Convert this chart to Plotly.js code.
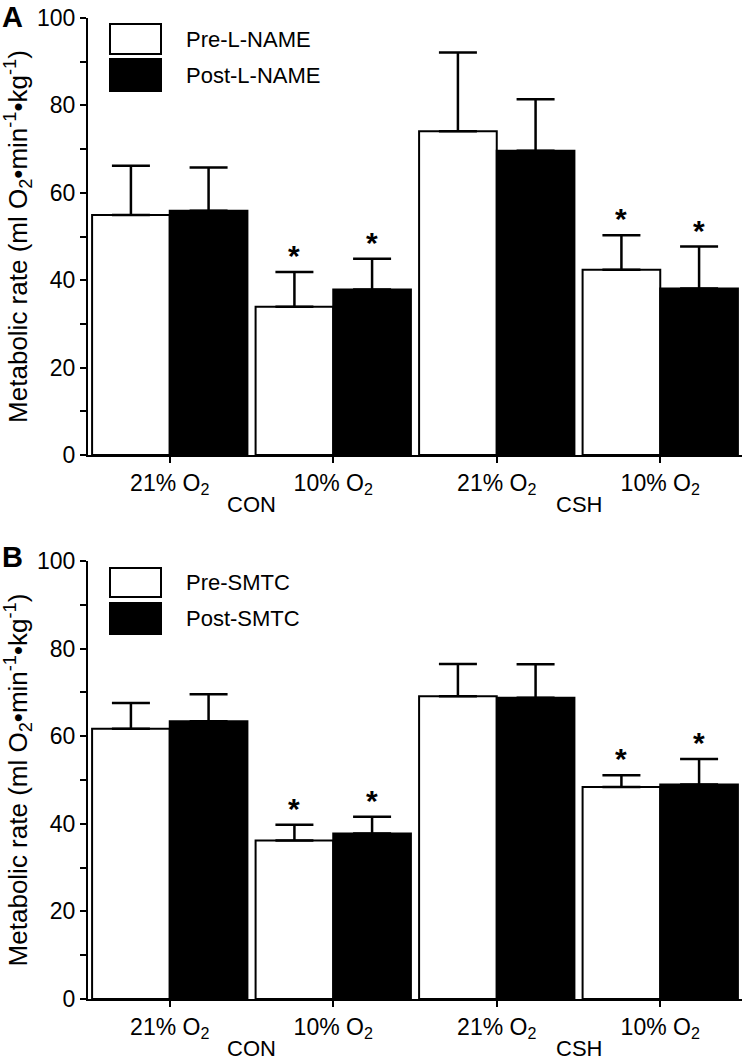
<!DOCTYPE html>
<html><head>
<meta charset="utf-8">
<script src="https://cdn.plot.ly/plotly-3.0.1.min.js"></script>
</head>
<body style="margin:0;background:#fff">
<div id="chart" style="width:744px;height:1061px"></div>
<script>
// ---- data ----
const catIndex = [0, 1, 2, 3];
const tickLabels = ['21% O<sub>2</sub>', '10% O<sub>2</sub>', '21% O<sub>2</sub>', '10% O<sub>2</sub>'];
const groupNames = ['CON', 'CSH'];
const groupCenters = [0.5, 2.5];

const preLNAME = [54.9, 33.9, 74.1, 42.4];
const preLNAMEerr = [11.3, 8.0, 18.0, 7.9];
const postLNAME = [55.9, 37.9, 69.6, 38.1];
const postLNAMEerr = [9.9, 7.0, 11.8, 9.6];

const preSMTC = [61.7, 36.2, 69.1, 48.4];
const preSMTCerr = [5.9, 3.6, 7.4, 2.7];
const postSMTC = [63.4, 37.8, 68.8, 49.0];
const postSMTCerr = [6.2, 3.8, 7.6, 5.8];

const sigPre = [false, true, false, true];
const sigPost = [false, true, false, true];

const legendA = ['Pre-L-NAME', 'Post-L-NAME'];
const legendB = ['Pre-SMTC', 'Post-SMTC'];
const yTitle = 'Metabolic rate (ml O<sub>2</sub>\u2022min<sup>-1</sup>\u2022kg<sup>-1</sup>)';

// ---- layout helpers ----
const W = 744, H = 1061;
const M = {l: 88, r: 2, t: 18, b: 62};
const PW = W - M.l - M.r, PH = H - M.t - M.b;
const px = x => (x - M.l) / PW;
const py = y => (H - M.b - y) / PH;
const FONT = 'Liberation Sans, Arial, Helvetica, sans-serif';
const BARGAP = 0.05;
const barOffset = (1 - BARGAP) / 4;
const TXT = 23;

function barTrace(vals, errs, fill, xa, ya) {
  return {
    type: 'bar', x: catIndex, y: vals, xaxis: xa, yaxis: ya,
    marker: {color: fill, line: {color: '#000', width: 2}},
    error_y: {type: 'data', symmetric: false, array: errs, arrayminus: errs.map(() => 0),
              color: '#000', thickness: 2.5, width: 19},
    showlegend: false, hoverinfo: 'skip'
  };
}

const data = [
  barTrace(preLNAME, preLNAMEerr, '#fff', 'x', 'y'),
  barTrace(postLNAME, postLNAMEerr, '#000', 'x', 'y'),
  barTrace(preSMTC, preSMTCerr, '#fff', 'x2', 'y2'),
  barTrace(postSMTC, postSMTCerr, '#000', 'x2', 'y2')
];

const annotations = [];
function stars(vals, errs, sig, side, xa, ya) {
  vals.forEach((v, i) => {
    if (!sig[i]) return;
    annotations.push({xref: xa, yref: ya, x: catIndex[i] + side * barOffset, y: v + errs[i],
      text: '<b>*</b>', showarrow: false, yanchor: 'bottom', yshift: -2,
      font: {family: FONT, size: 30, color: '#000'}});
  });
}
stars(preLNAME, preLNAMEerr, sigPre, -1, 'x', 'y');
stars(postLNAME, postLNAMEerr, sigPost, 1, 'x', 'y');
stars(preSMTC, preSMTCerr, sigPre, -1, 'x2', 'y2');
stars(postSMTC, postSMTCerr, sigPost, 1, 'x2', 'y2');

// group labels
[['x', 'y domain'], ['x2', 'y2 domain']].forEach(([xa, ya]) => {
  groupNames.forEach((g, i) => annotations.push({xref: xa, yref: ya, x: groupCenters[i], y: 0,
    yanchor: 'top', yshift: -35, text: g, showarrow: false,
    font: {family: FONT, size: 22, color: '#000'}}));
});

// panel letters
annotations.push({xref: 'paper', yref: 'paper', x: px(0), y: py(17), xanchor: 'left', yanchor: 'middle',
  text: '<b>A</b>', showarrow: false, font: {family: FONT, size: 29, color: '#000'}});
annotations.push({xref: 'paper', yref: 'paper', x: px(0), y: py(557), xanchor: 'left', yanchor: 'middle',
  text: '<b>B</b>', showarrow: false, font: {family: FONT, size: 29, color: '#000'}});

// legends (drawn as boxes + text)
const shapes = [];
function legend(names, topWhite, topBlack, hWhite, hBlack) {
  shapes.push({type: 'rect', xref: 'paper', yref: 'paper', x0: px(110), x1: px(161),
    y0: py(topWhite + hWhite), y1: py(topWhite), fillcolor: '#fff', line: {color: '#000', width: 2}});
  shapes.push({type: 'rect', xref: 'paper', yref: 'paper', x0: px(110), x1: px(161),
    y0: py(topBlack + hBlack), y1: py(topBlack), fillcolor: '#000', line: {color: '#000', width: 2}});
  annotations.push({xref: 'paper', yref: 'paper', x: px(184), y: py(topWhite + hWhite / 2),
    xanchor: 'left', yanchor: 'middle', text: names[0], showarrow: false,
    font: {family: FONT, size: 22, color: '#000'}});
  annotations.push({xref: 'paper', yref: 'paper', x: px(184), y: py(topBlack + hBlack / 2),
    xanchor: 'left', yanchor: 'middle', text: names[1], showarrow: false,
    font: {family: FONT, size: 22, color: '#000'}});
}
legend(legendA, 24, 59, 30, 32);
legend(legendB, 568, 603, 29, 31);

function xAxis(anchor) {
  return {anchor: anchor, range: [-0.5, 3.5], tickmode: 'array', tickvals: catIndex, ticktext: tickLabels,
    showline: true, linecolor: '#000', linewidth: 2, ticks: 'outside', ticklen: 6, tickwidth: 2,
    tickcolor: '#000', showgrid: false, zeroline: false,
    tickfont: {family: FONT, size: TXT, color: '#000'}};
}
function yAxis(anchor, domain) {
  return {anchor: anchor, domain: domain, range: [0, 100], dtick: 20, tick0: 0,
    showline: true, linecolor: '#000', linewidth: 2, ticks: 'outside', ticklen: 6, tickwidth: 2,
    tickcolor: '#000', showgrid: false, zeroline: false,
    minor: {dtick: 10, ticks: 'outside', ticklen: 6, tickwidth: 2, tickcolor: '#000', showgrid: false},
    tickfont: {family: FONT, size: TXT, color: '#000'},
    title: {text: yTitle, font: {family: FONT, size: 26, color: '#000'}, standoff: 4}};
}

const layout = {
  width: W, height: H, margin: M,
  paper_bgcolor: '#fff', plot_bgcolor: '#fff',
  barmode: 'group', bargap: BARGAP, bargroupgap: 0,
  showlegend: false,
  xaxis: xAxis('y'), yaxis: yAxis('x', [py(455), 1]),
  xaxis2: xAxis('y2'), yaxis2: yAxis('x2', [0, py(561)]),
  annotations: annotations, shapes: shapes,
  font: {family: FONT, color: '#000'}
};

Plotly.newPlot('chart', data, layout, {staticPlot: true});
</script>
</body></html>
